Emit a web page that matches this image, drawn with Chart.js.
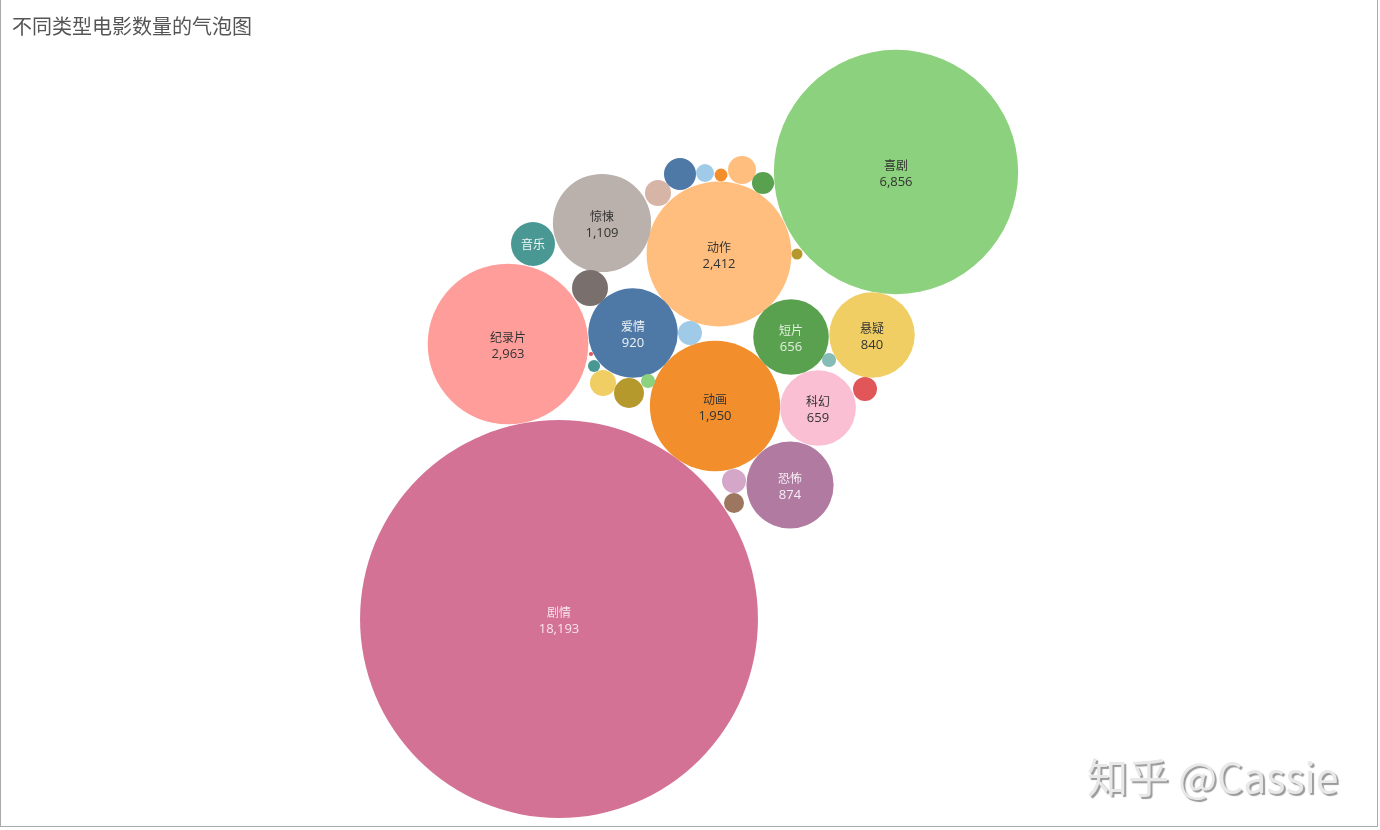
<!DOCTYPE html>
<html>
<head>
<meta charset="utf-8">
<script src="https://cdn.jsdelivr.net/npm/chart.js@4/dist/chart.umd.min.js"></script>
<style>
  body { margin: 0; background: #fff; }
  #wrap { position: absolute; left: 0; top: 0; width: 1380px; height: 830px; }
  #frame { position: absolute; left: 0; top: -1px; width: 1376px; height: 827px;
           border-left: 1px solid #aaa; border-right: 1px solid #aaa; border-bottom: 1px solid #aaa; pointer-events: none; }
  #title { position: absolute; left: 12px; top: 11px; font: 20px "Noto Sans CJK SC", sans-serif;
           color: #555; }
  #mark { position: absolute; left: 1087px; top: 745px; font: 41px "Noto Sans CJK SC", "DejaVu Sans", sans-serif;
          color: #e8e8e8; text-shadow: 2px 2px 1px #9a9a9a; white-space: nowrap; }
</style>
</head>
<body>
<div id="wrap">
  <canvas id="bubbleChart" width="1380" height="830"></canvas>
  <div id="title">不同类型电影数量的气泡图</div>
  <div id="mark">知乎 @Cassie</div>
  <div id="frame"></div>
</div>
<script>
// genre names (small unlabeled bubbles left blank)
const genres = ['剧情', '喜剧', '纪录片', '动作', '动画', '惊悚', '爱情', '恐怖', '悬疑', '科幻', '短片', '音乐',
  '', '', '', '', '', '', '', '', '', '', '', '', '', '', '', '', '', ''];
// movie counts (small ones)
const counts = [18193, 6856, 2963, 2412, 1950, 1109, 920, 874, 840, 659, 656, 222,
  149, 66, 17, 2, 78, 103, 23, 78, 118, 37, 19, 90, 56, 14, 23, 66, 66, 46];
// packed layout position of each bubble
const posX = [559, 896, 508, 719, 715, 602, 633, 790, 872, 818, 791, 533,
  590, 690, 594, 591, 603, 629, 648, 658, 680, 705, 721, 742, 763, 797, 829, 865, 734, 734];
const posY = [619, 172, 344, 254, 406, 223, 333, 485, 335, 408, 337, 244,
  288, 333, 366, 354, 383, 393, 381, 193, 174, 173, 175, 170, 183, 254, 360, 389, 481, 503];
const colors = ['#D37295', '#8CD17D', '#FF9D9A', '#FFBE7D', '#F28E2B', '#BAB0AC', '#4E79A7', '#B07AA1', '#F1CE63', '#FABFD2', '#59A14F', '#499894',
  '#79706E', '#A0CBE8', '#499894', '#E15759', '#F1CE63', '#B6992D', '#8CD17D', '#D7B5A6', '#4E79A7', '#A0CBE8', '#F28E2B', '#FFBE7D', '#59A14F', '#B6992D', '#86BCB6', '#E15759', '#D4A6C8', '#9D7660'];
const textColors = ['#f7e3eb', '#333', '#333', '#333', '#333', '#333', '#eef2f7', '#f6eef4', '#333', '#333', '#e2f0df', '#eef6f5'];

const sizeScale = 1.475; // px per sqrt(count)

const points = counts.map((c, i) => ({ x: posX[i], y: posY[i], r: sizeScale * Math.sqrt(c) }));

const labelPlugin = {
  id: 'bubbleLabels',
  afterDatasetsDraw(chart) {
    const ctx = chart.ctx;
    const meta = chart.getDatasetMeta(0);
    ctx.save();
    ctx.textAlign = 'center';
    ctx.textBaseline = 'middle';
    meta.data.forEach((el, i) => {
      if (!genres[i]) return;
      ctx.fillStyle = textColors[i] || '#333';
      ctx.font = '12px "Noto Sans CJK SC", sans-serif';
      if (counts[i] < 500) {
        // no room for the value in small bubbles
        ctx.fillText(genres[i], el.x, el.y);
        return;
      }
      ctx.fillText(genres[i], el.x, el.y - 7);
      ctx.font = '13px "Open Sans", "DejaVu Sans", sans-serif';
      ctx.fillText(counts[i].toLocaleString('en-US'), el.x, el.y + 10);
    });
    ctx.restore();
  }
};

new Chart(document.getElementById('bubbleChart').getContext('2d'), {
  type: 'bubble',
  data: {
    datasets: [{
      label: '电影数量',
      data: points,
      backgroundColor: colors,
      borderWidth: 0,
      hoverBorderWidth: 0,
      clip: false
    }]
  },
  options: {
    responsive: false,
    animation: false,
    devicePixelRatio: 1,
    layout: { padding: 0, autoPadding: false },
    plugins: { legend: { display: false }, tooltip: { enabled: false } },
    scales: {
      x: { type: 'linear', min: 0, max: 1380, display: false },
      y: { type: 'linear', min: 0, max: 830, reverse: true, display: false }
    }
  },
  plugins: [labelPlugin]
});
</script>
</body>
</html>
